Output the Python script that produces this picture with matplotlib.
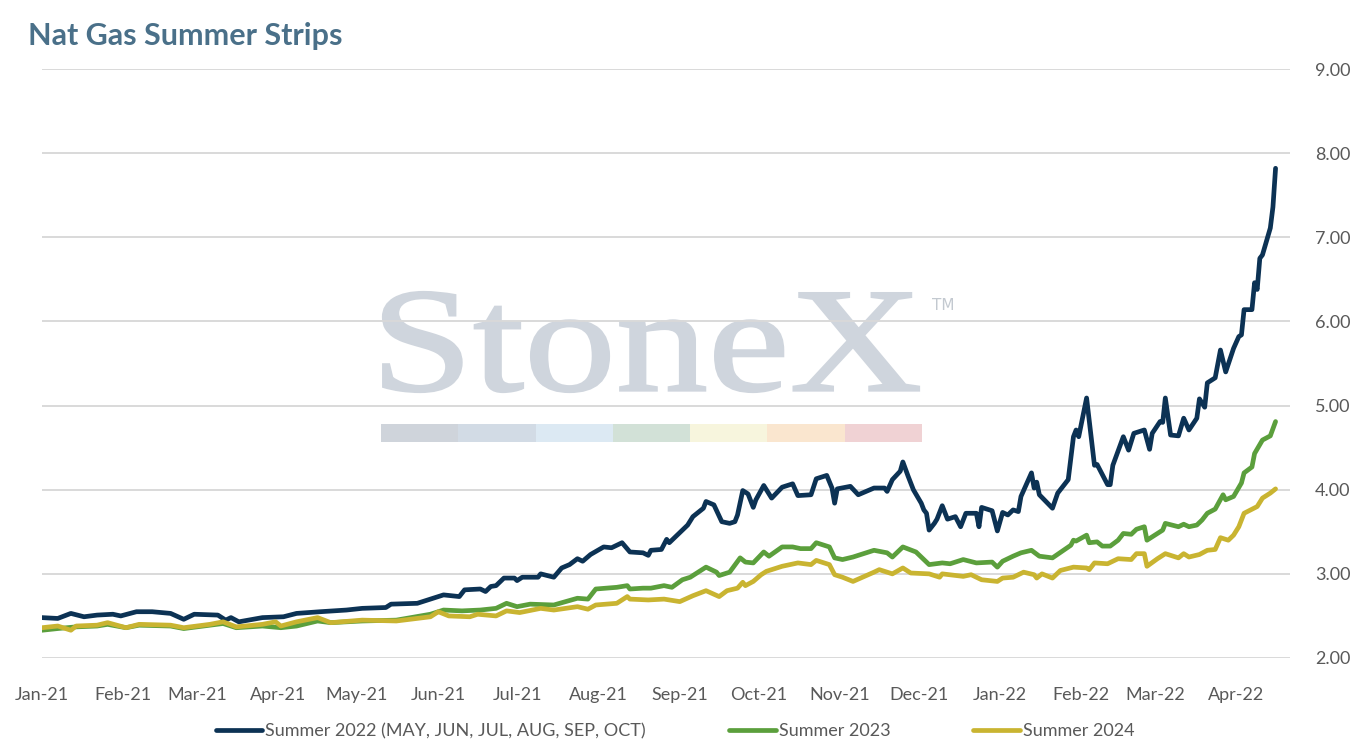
import matplotlib
matplotlib.use("Agg")
import matplotlib.pyplot as plt
import matplotlib.dates as mdates
import matplotlib.transforms as mtransforms
from matplotlib.textpath import TextPath
from matplotlib.patches import PathPatch, Rectangle
from matplotlib.font_manager import FontProperties
import pandas as pd

# values (roughly 2 points a week)
s22_dates = [
    "2021-01-01", "2021-01-07", "2021-01-12", "2021-01-17", "2021-01-22", "2021-01-28", "2021-01-31",
    "2021-02-06", "2021-02-12", "2021-02-19", "2021-02-24", "2021-02-28", "2021-03-09", "2021-03-12",
    "2021-03-14", "2021-03-17", "2021-03-26", "2021-04-03", "2021-04-08", "2021-04-17", "2021-04-27",
    "2021-05-03", "2021-05-12", "2021-05-14", "2021-05-24", "2021-05-29", "2021-06-03", "2021-06-09",
    "2021-06-11", "2021-06-17", "2021-06-19", "2021-06-21", "2021-06-23", "2021-06-26", "2021-06-30",
    "2021-07-01", "2021-07-03", "2021-07-09", "2021-07-10", "2021-07-15", "2021-07-18", "2021-07-21",
    "2021-07-24", "2021-07-26", "2021-07-29", "2021-08-03", "2021-08-06", "2021-08-10", "2021-08-13",
    "2021-08-18", "2021-08-20", "2021-08-21", "2021-08-25", "2021-08-27", "2021-08-28", "2021-09-02",
    "2021-09-04", "2021-09-06", "2021-09-10", "2021-09-11", "2021-09-14", "2021-09-17", "2021-09-20",
    "2021-09-22", "2021-09-23", "2021-09-25", "2021-09-27", "2021-09-29", "2021-09-30", "2021-10-03",
    "2021-10-06", "2021-10-10", "2021-10-14", "2021-10-16", "2021-10-21", "2021-10-23", "2021-10-27",
    "2021-10-29", "2021-10-30", "2021-10-31", "2021-11-05", "2021-11-08", "2021-11-11", "2021-11-14",
    "2021-11-18", "2021-11-19", "2021-11-21", "2021-11-24", "2021-11-25", "2021-11-27", "2021-11-29",
    "2021-12-02", "2021-12-03", "2021-12-04", "2021-12-05", "2021-12-07", "2021-12-08", "2021-12-10",
    "2021-12-12", "2021-12-15", "2021-12-17", "2021-12-19", "2021-12-23", "2021-12-24", "2021-12-25",
    "2021-12-29", "2021-12-31", "2022-01-02", "2022-01-04", "2022-01-06", "2022-01-08", "2022-01-09",
    "2022-01-13", "2022-01-14", "2022-01-15", "2022-01-16", "2022-01-21", "2022-01-23", "2022-01-27",
    "2022-01-29", "2022-01-30", "2022-01-31", "2022-02-03", "2022-02-06", "2022-02-07", "2022-02-11",
    "2022-02-12", "2022-02-13", "2022-02-17", "2022-02-19", "2022-02-21", "2022-02-25", "2022-02-27",
    "2022-02-28", "2022-03-03", "2022-03-04", "2022-03-05", "2022-03-07", "2022-03-10", "2022-03-12",
    "2022-03-14", "2022-03-17", "2022-03-18", "2022-03-20", "2022-03-21", "2022-03-24", "2022-03-26",
    "2022-03-28", "2022-03-31", "2022-04-02", "2022-04-03", "2022-04-04", "2022-04-07", "2022-04-08",
    "2022-04-09", "2022-04-10", "2022-04-11", "2022-04-14", "2022-04-15", "2022-04-16",
]
s22_values = [
    2.48, 2.47, 2.53, 2.49, 2.51, 2.52, 2.50,
    2.55, 2.55, 2.53, 2.46, 2.52, 2.51, 2.45,
    2.48, 2.43, 2.48, 2.49, 2.53, 2.55, 2.57,
    2.59, 2.60, 2.64, 2.65, 2.70, 2.75, 2.73,
    2.81, 2.82, 2.79, 2.85, 2.86, 2.95, 2.95,
    2.92, 2.96, 2.96, 3.00, 2.96, 3.07, 3.11,
    3.18, 3.15, 3.23, 3.32, 3.31, 3.37, 3.26,
    3.25, 3.22, 3.28, 3.29, 3.41, 3.37, 3.52,
    3.58, 3.68, 3.78, 3.86, 3.82, 3.62, 3.60,
    3.62, 3.70, 3.99, 3.95, 3.79, 3.88, 4.05,
    3.90, 4.03, 4.07, 3.93, 3.94, 4.13, 4.17,
    4.02, 3.84, 4.01, 4.04, 3.94, 3.98, 4.02,
    4.02, 3.98, 4.12, 4.22, 4.33, 4.16, 4.00,
    3.84, 3.76, 3.72, 3.52, 3.60, 3.65, 3.81,
    3.65, 3.68, 3.56, 3.72, 3.72, 3.56, 3.79,
    3.75, 3.51, 3.73, 3.70, 3.76, 3.74, 3.92,
    4.20, 4.02, 4.09, 3.94, 3.78, 3.96, 4.12,
    4.63, 4.71, 4.63, 5.09, 4.29, 4.30, 4.06,
    4.06, 4.29, 4.63, 4.47, 4.67, 4.71, 4.48,
    4.67, 4.81, 4.80, 5.09, 4.65, 4.64, 4.85,
    4.71, 4.85, 5.08, 4.98, 5.27, 5.33, 5.66,
    5.40, 5.68, 5.82, 5.84, 6.14, 6.14, 6.46,
    6.38, 6.75, 6.79, 7.11, 7.36, 7.82,
]

s23_dates = [
    "2021-01-01", "2021-01-07", "2021-01-14", "2021-01-22", "2021-01-26", "2021-02-02", "2021-02-07",
    "2021-02-19", "2021-02-24", "2021-03-06", "2021-03-11", "2021-03-16", "2021-03-26", "2021-04-02",
    "2021-04-08", "2021-04-16", "2021-04-21", "2021-05-03", "2021-05-16", "2021-05-29", "2021-06-03",
    "2021-06-10", "2021-06-17", "2021-06-23", "2021-06-27", "2021-07-01", "2021-07-06", "2021-07-15",
    "2021-07-24", "2021-07-28", "2021-07-31", "2021-08-08", "2021-08-12", "2021-08-13", "2021-08-18",
    "2021-08-21", "2021-08-26", "2021-08-29", "2021-09-02", "2021-09-05", "2021-09-11", "2021-09-15",
    "2021-09-16", "2021-09-20", "2021-09-24", "2021-09-26", "2021-09-29", "2021-10-03", "2021-10-05",
    "2021-10-10", "2021-10-14", "2021-10-17", "2021-10-21", "2021-10-23", "2021-10-28", "2021-10-30",
    "2021-11-02", "2021-11-06", "2021-11-14", "2021-11-19", "2021-11-21", "2021-11-25", "2021-11-30",
    "2021-12-05", "2021-12-10", "2021-12-13", "2021-12-18", "2021-12-23", "2021-12-29", "2021-12-31",
    "2022-01-02", "2022-01-06", "2022-01-09", "2022-01-13", "2022-01-16", "2022-01-21", "2022-01-28",
    "2022-01-29", "2022-01-30", "2022-02-03", "2022-02-04", "2022-02-07", "2022-02-09", "2022-02-12",
    "2022-02-15", "2022-02-17", "2022-02-20", "2022-02-22", "2022-02-25", "2022-02-26", "2022-02-28",
    "2022-03-04", "2022-03-05", "2022-03-10", "2022-03-12", "2022-03-14", "2022-03-17", "2022-03-19",
    "2022-03-21", "2022-03-24", "2022-03-27", "2022-03-28", "2022-03-31", "2022-04-03", "2022-04-04",
    "2022-04-07", "2022-04-08", "2022-04-11", "2022-04-14", "2022-04-16",
]
s23_values = [
    2.33, 2.35, 2.37, 2.38, 2.40, 2.36, 2.39,
    2.38, 2.35, 2.39, 2.41, 2.36, 2.38, 2.36,
    2.38, 2.44, 2.42, 2.44, 2.45, 2.52, 2.57,
    2.56, 2.57, 2.59, 2.65, 2.61, 2.64, 2.63,
    2.71, 2.70, 2.82, 2.84, 2.86, 2.82, 2.83,
    2.83, 2.86, 2.84, 2.93, 2.96, 3.08, 3.02,
    2.98, 3.02, 3.19, 3.14, 3.13, 3.26, 3.21,
    3.32, 3.32, 3.30, 3.30, 3.37, 3.32, 3.19,
    3.17, 3.20, 3.28, 3.25, 3.20, 3.32, 3.26,
    3.11, 3.13, 3.12, 3.17, 3.13, 3.14, 3.08,
    3.15, 3.21, 3.25, 3.28, 3.21, 3.19, 3.34,
    3.40, 3.39, 3.46, 3.37, 3.38, 3.33, 3.33,
    3.40, 3.48, 3.47, 3.53, 3.56, 3.40, 3.44,
    3.52, 3.60, 3.56, 3.59, 3.56, 3.58, 3.64,
    3.72, 3.77, 3.94, 3.88, 3.92, 4.08, 4.20,
    4.27, 4.43, 4.59, 4.64, 4.81,
]

s24_dates = [
    "2021-01-01", "2021-01-07", "2021-01-12", "2021-01-14", "2021-01-22", "2021-01-26", "2021-02-02",
    "2021-02-07", "2021-02-19", "2021-02-24", "2021-03-06", "2021-03-11", "2021-03-16", "2021-03-26",
    "2021-03-31", "2021-04-02", "2021-04-08", "2021-04-16", "2021-04-21", "2021-05-03", "2021-05-16",
    "2021-05-29", "2021-06-01", "2021-06-05", "2021-06-13", "2021-06-16", "2021-06-23", "2021-06-27",
    "2021-07-02", "2021-07-10", "2021-07-15", "2021-07-24", "2021-07-28", "2021-07-31", "2021-08-08",
    "2021-08-12", "2021-08-13", "2021-08-20", "2021-08-26", "2021-09-01", "2021-09-06", "2021-09-11",
    "2021-09-16", "2021-09-19", "2021-09-23", "2021-09-25", "2021-09-26", "2021-09-29", "2021-10-02",
    "2021-10-04", "2021-10-08", "2021-10-10", "2021-10-16", "2021-10-21", "2021-10-23", "2021-10-28",
    "2021-10-30", "2021-11-02", "2021-11-06", "2021-11-14", "2021-11-16", "2021-11-21", "2021-11-25",
    "2021-11-28", "2021-12-05", "2021-12-09", "2021-12-10", "2021-12-18", "2021-12-21", "2021-12-25",
    "2021-12-31", "2022-01-02", "2022-01-06", "2022-01-10", "2022-01-14", "2022-01-15", "2022-01-17",
    "2022-01-21", "2022-01-24", "2022-01-29", "2022-02-03", "2022-02-04", "2022-02-06", "2022-02-11",
    "2022-02-15", "2022-02-20", "2022-02-22", "2022-02-25", "2022-02-26", "2022-03-02", "2022-03-05",
    "2022-03-10", "2022-03-12", "2022-03-14", "2022-03-18", "2022-03-21", "2022-03-24", "2022-03-26",
    "2022-03-29", "2022-03-31", "2022-04-02", "2022-04-04", "2022-04-09", "2022-04-11", "2022-04-14",
    "2022-04-16",
]
s24_values = [
    2.36, 2.38, 2.33, 2.38, 2.39, 2.42, 2.36,
    2.40, 2.39, 2.36, 2.40, 2.43, 2.37, 2.40,
    2.43, 2.38, 2.43, 2.48, 2.42, 2.45, 2.44,
    2.49, 2.55, 2.50, 2.49, 2.52, 2.50, 2.56,
    2.54, 2.59, 2.57, 2.61, 2.58, 2.63, 2.65,
    2.73, 2.70, 2.69, 2.70, 2.67, 2.74, 2.80,
    2.73, 2.80, 2.83, 2.90, 2.86, 2.91, 2.99,
    3.03, 3.07, 3.09, 3.13, 3.11, 3.16, 3.11,
    2.99, 2.96, 2.91, 3.02, 3.05, 3.00, 3.07,
    3.01, 3.00, 2.96, 3.00, 2.97, 2.99, 2.93,
    2.91, 2.95, 2.96, 3.02, 2.99, 2.95, 3.00,
    2.95, 3.04, 3.08, 3.07, 3.05, 3.13, 3.12,
    3.18, 3.17, 3.24, 3.24, 3.09, 3.18, 3.24,
    3.19, 3.24, 3.20, 3.23, 3.28, 3.29, 3.43,
    3.40, 3.46, 3.56, 3.72, 3.80, 3.90, 3.96,
    4.01,
]

labels = ["Summer 2022 (MAY, JUN, JUL, AUG, SEP, OCT)", "Summer 2023", "Summer 2024"]
colors = ["#0c3254", "#5b9f3c", "#c9b431"]
y_ticks = [2, 3, 4, 5, 6, 7, 8, 9]

W, H = 1350, 750
fig = plt.figure(figsize=(W / 100, H / 100), dpi=100)
plt.rcParams["font.family"] = ["Lato", "DejaVu Sans"]

ax = fig.add_axes([42 / W, 1 - 658 / H, (1290 - 42) / W, (658 - 69) / H])
ax.patch.set_visible(False)

# StoneX watermark behind the grid
wm_color = "#cfd5dd"
tp = TextPath((0, 0), "StoneX", size=100, prop=FontProperties(family="Liberation Serif"))
bb = tp.get_extents()
x0, x1, ytop, ybot = 383, 919, 292, 392
tr = mtransforms.Affine2D().translate(-bb.x0, -bb.y0).scale((x1 - x0) / bb.width / W, (ybot - ytop) / bb.height / H)
tr = tr.translate(x0 / W, 1 - ybot / H)
fig.add_artist(PathPatch(tp, transform=tr + fig.transFigure, facecolor=wm_color, edgecolor=wm_color,
                         lw=1.6, zorder=-2))
fig.text(943 / W, 1 - 306 / H, "TM", fontsize=11, color="#c3c9d0", ha="center", va="center",
         family="DejaVu Sans", zorder=-2)
bar_colors = ["#cfd4db", "#d2dbe5", "#dce9f3", "#d2e1d7", "#f7f5dd", "#fae6cf", "#f0d2d4"]
seg = (922 - 381) / len(bar_colors)
for i, c in enumerate(bar_colors):
    fig.add_artist(Rectangle(((381 + i * seg) / W, 1 - 442 / H), seg / W, 18 / H,
                             transform=fig.transFigure, facecolor=c, edgecolor="none", zorder=-2))

for d, v, lab, c in zip([s22_dates, s23_dates, s24_dates], [s22_values, s23_values, s24_values], labels, colors):
    ax.plot(pd.to_datetime(d), v, color=c, lw=3.4, label=lab, solid_joinstyle="round", solid_capstyle="round")

ax.set_ylim(2, 9)
ax.set_yticks(y_ticks)
ax.set_yticklabels([f"{t:.2f}" for t in y_ticks])
ax.yaxis.tick_right()
ax.set_xlim(pd.Timestamp("2021-01-01"), pd.Timestamp("2022-04-21 12:00"))
ax.xaxis.set_major_locator(mdates.MonthLocator())
ax.xaxis.set_major_formatter(mdates.DateFormatter("%b-%y"))
ax.tick_params(axis="both", length=0, labelsize=13, labelcolor="#595959")
ax.tick_params(axis="x", pad=21)
ax.tick_params(axis="y", pad=18)
ax.grid(axis="y", color="#d9d9d9", lw=1.4)
ax.set_axisbelow(True)
for sp in ax.spines.values():
    sp.set_visible(False)

fig.text(28 / W, 1 - 36 / H, "Nat Gas Summer Strips", fontsize=22, fontweight="bold",
         color="#4a7089", ha="left", va="center")

fig.legend(loc="center", bbox_to_anchor=(675 / W, 1 - 731 / H), ncol=3, frameon=False, fontsize=13,
           handlelength=2.6, handletextpad=0.15, columnspacing=4.6, labelcolor="#595959")

fig.savefig("out.png", dpi=100)
